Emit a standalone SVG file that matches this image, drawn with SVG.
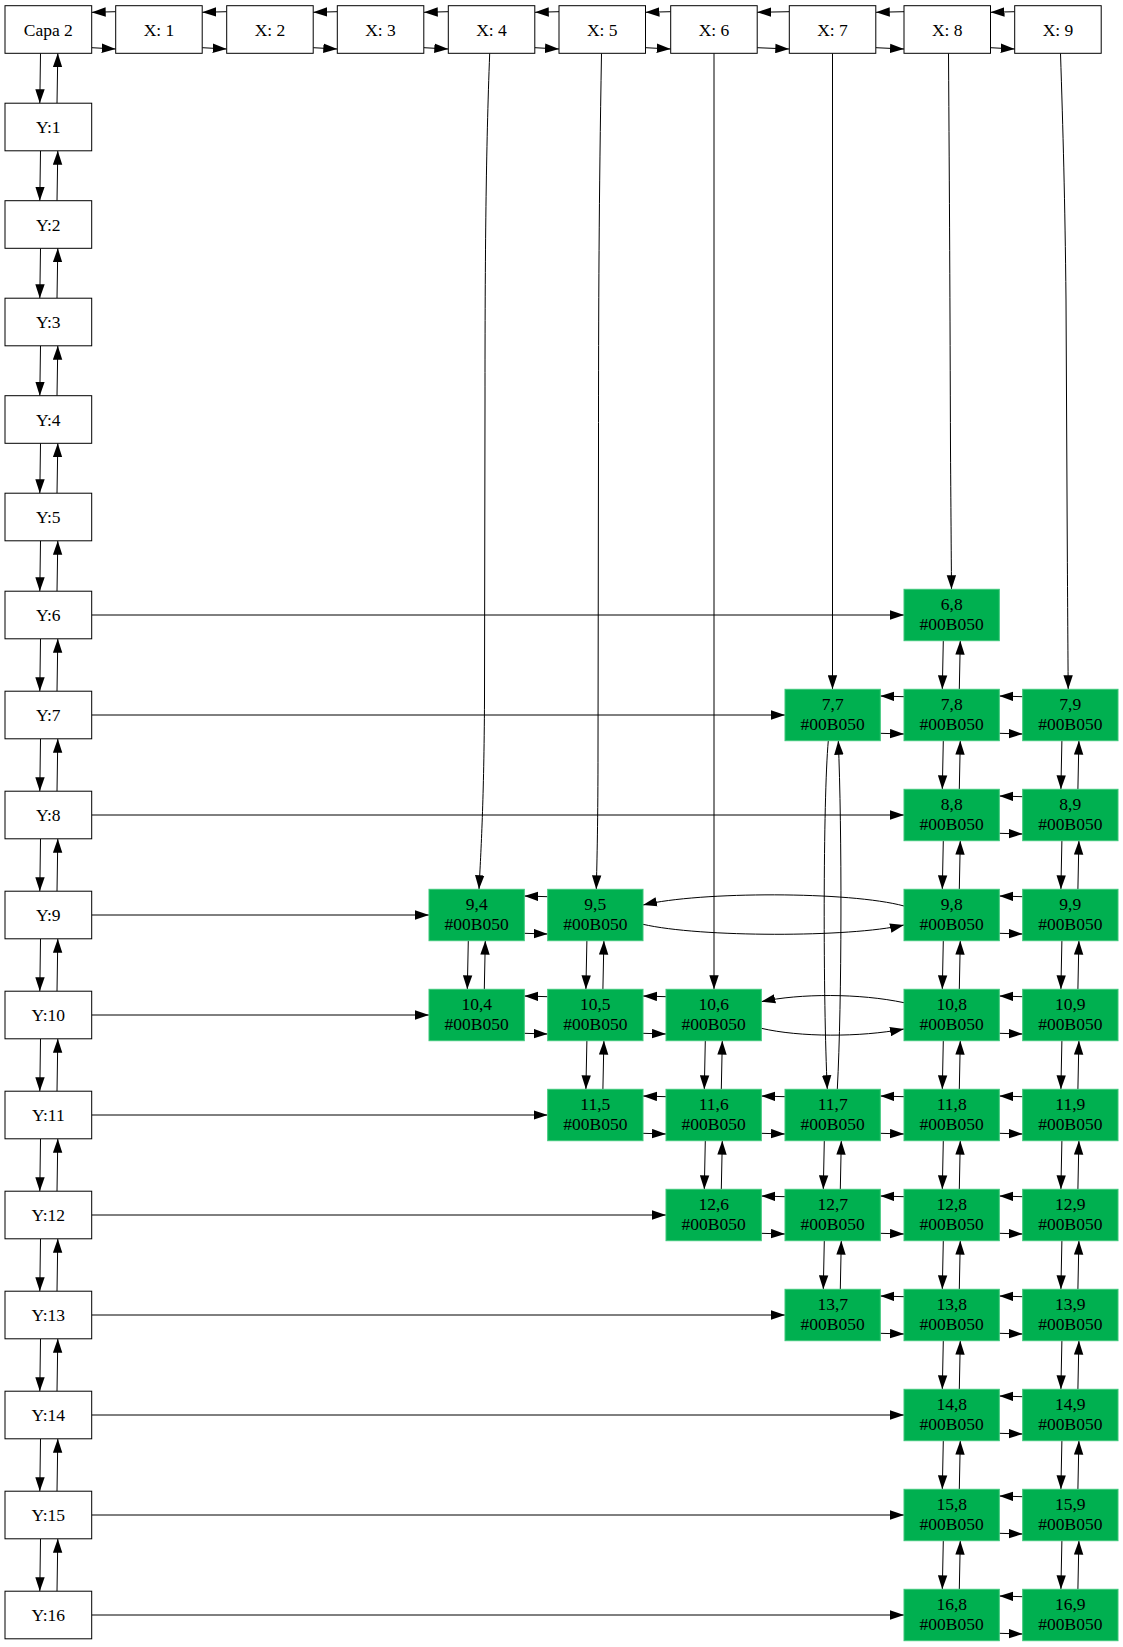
<svg xmlns="http://www.w3.org/2000/svg" width="1123" height="1647" viewBox="0 0 1123 1647">
<style>
.w{fill:#fff;stroke:#000;stroke-width:1}
.g{fill:#00b050;stroke:#3cc77a;stroke-width:1}
.t{font-family:"Liberation Serif","Times New Roman",serif;font-size:17.5px;text-anchor:middle;fill:#000}
.e{fill:none;stroke:#000;stroke-width:1;marker-end:url(#a)}
</style>
<defs><marker id="a" markerUnits="userSpaceOnUse" markerWidth="14" markerHeight="10" refX="14" refY="5" orient="auto"><path d="M0,0.3L14,5L0,9.7z" fill="#000"/></marker></defs>
<rect width="1123" height="1647" fill="#fff"/>
<g id="connectors">
<!-- header row -->
<path class="e" d="M115.7,11.7L91.7,12.3"/><path class="e" d="M91.7,47.7L115.7,49"/>
<path class="e" d="M226.7,11.7L202.2,12.3"/><path class="e" d="M202.2,47.7L226.7,49"/>
<path class="e" d="M337.3,11.7L313.2,12.3"/><path class="e" d="M313.2,47.7L337.3,49"/>
<path class="e" d="M448.3,11.7L423.8,12.3"/><path class="e" d="M423.8,47.7L448.3,49"/>
<path class="e" d="M559,11.7L534.8,12.3"/><path class="e" d="M534.8,47.7L559,49"/>
<path class="e" d="M670.7,11.7L645.5,12.3"/><path class="e" d="M645.5,47.7L670.7,49"/>
<path class="e" d="M789.3,11.7L757.2,12.3"/><path class="e" d="M757.2,47.7L789.3,49"/>
<path class="e" d="M904,11.7L875.8,12.3"/><path class="e" d="M875.8,47.7L904,49"/>
<path class="e" d="M1014.7,11.7L990.5,12.3"/><path class="e" d="M990.5,47.7L1014.7,49"/>
<!-- Y column -->
<path class="e" d="M40.5,53.3L39.8,103.2"/><path class="e" d="M57,103.2L57.8,53.3"/>
<path class="e" d="M40.5,150.8L39.8,200.7"/><path class="e" d="M57,200.7L57.8,150.8"/>
<path class="e" d="M40.5,248.3L39.8,298.2"/><path class="e" d="M57,298.2L57.8,248.3"/>
<path class="e" d="M40.5,345.8L39.8,395.7"/><path class="e" d="M57,395.7L57.8,345.8"/>
<path class="e" d="M40.5,443.3L39.8,493.2"/><path class="e" d="M57,493.2L57.8,443.3"/>
<path class="e" d="M40.5,540.8L39.8,591.2"/><path class="e" d="M57,591.2L57.8,540.8"/>
<path class="e" d="M40.5,638.8L39.8,691.2"/><path class="e" d="M57,691.2L57.8,638.8"/>
<path class="e" d="M40.5,738.8L39.8,791.2"/><path class="e" d="M57,791.2L57.8,738.8"/>
<path class="e" d="M40.5,838.8L39.8,891.2"/><path class="e" d="M57,891.2L57.8,838.8"/>
<path class="e" d="M40.5,938.8L39.8,991.2"/><path class="e" d="M57,991.2L57.8,938.8"/>
<path class="e" d="M40.5,1038.8L39.8,1091.2"/><path class="e" d="M57,1091.2L57.8,1038.8"/>
<path class="e" d="M40.5,1138.8L39.8,1191.2"/><path class="e" d="M57,1191.2L57.8,1138.8"/>
<path class="e" d="M40.5,1238.8L39.8,1291.2"/><path class="e" d="M57,1291.2L57.8,1238.8"/>
<path class="e" d="M40.5,1338.8L39.8,1391.2"/><path class="e" d="M57,1391.2L57.8,1338.8"/>
<path class="e" d="M40.5,1438.8L39.8,1491.2"/><path class="e" d="M57,1491.2L57.8,1438.8"/>
<path class="e" d="M40.5,1538.8L39.8,1591.2"/><path class="e" d="M57,1591.2L57.8,1538.8"/>
<!-- Y rows to first node -->
<path class="e" d="M91.7,615L904,615"/>
<path class="e" d="M91.7,715L785,715"/>
<path class="e" d="M91.7,815L904,815"/>
<path class="e" d="M91.7,915L429,915"/>
<path class="e" d="M91.7,1015L429,1015"/>
<path class="e" d="M91.7,1115L547.7,1115"/>
<path class="e" d="M91.7,1215L666,1215"/>
<path class="e" d="M91.7,1315L785,1315"/>
<path class="e" d="M91.7,1415L904,1415"/>
<path class="e" d="M91.7,1515L904,1515"/>
<path class="e" d="M91.7,1615L904,1615"/>
<!-- X headers to columns -->
<path class="e" d="M489.7,53.3C486,150 485,250 485,400L484.5,700C484,800 481,850 479,889.3"/>
<path class="e" d="M601.5,53.3C599,200 598.5,300 598.5,450L598,750C598,820 597,860 596.3,889.3"/>
<path class="e" d="M714,53.3L714,989.3"/>
<path class="e" d="M832.5,53.3L832.5,689.3"/>
<path class="e" d="M948.5,53.3C949.5,200 950,300 950.5,450C951,520 951.3,560 951.5,589.3"/>
<path class="e" d="M1060.5,53.3C1063,130 1065,200 1066,300L1067.3,550C1067.7,620 1068,660 1068.2,689.3"/>
<!-- green horizontal pairs -->
<path class="e" d="M904,696.7L880.3,696"/><path class="e" d="M880.3,733.3L904,734"/>
<path class="e" d="M1022.7,696.7L999.3,696"/><path class="e" d="M999.3,733.3L1022.7,734"/>
<path class="e" d="M1022.7,796.7L999.3,796"/><path class="e" d="M999.3,833.3L1022.7,834"/>
<path class="e" d="M547.7,896.7L524.3,896"/><path class="e" d="M524.3,933.3L547.7,934"/>
<path class="e" d="M1022.7,896.7L999.3,896"/><path class="e" d="M999.3,933.3L1022.7,934"/>
<path class="e" d="M547.7,996.7L524.3,996"/><path class="e" d="M524.3,1033.3L547.7,1034"/>
<path class="e" d="M666,996.7L643,996"/><path class="e" d="M643,1033.3L666,1034"/>
<path class="e" d="M1022.7,996.7L999.3,996"/><path class="e" d="M999.3,1033.3L1022.7,1034"/>
<path class="e" d="M666,1096.7L643,1096"/><path class="e" d="M643,1133.3L666,1134"/>
<path class="e" d="M785,1096.7L761.3,1096"/><path class="e" d="M761.3,1133.3L785,1134"/>
<path class="e" d="M904,1096.7L880.3,1096"/><path class="e" d="M880.3,1133.3L904,1134"/>
<path class="e" d="M1022.7,1096.7L999.3,1096"/><path class="e" d="M999.3,1133.3L1022.7,1134"/>
<path class="e" d="M785,1196.7L761.3,1196"/><path class="e" d="M761.3,1233.3L785,1234"/>
<path class="e" d="M904,1196.7L880.3,1196"/><path class="e" d="M880.3,1233.3L904,1234"/>
<path class="e" d="M1022.7,1196.7L999.3,1196"/><path class="e" d="M999.3,1233.3L1022.7,1234"/>
<path class="e" d="M904,1296.7L880.3,1296"/><path class="e" d="M880.3,1333.3L904,1334"/>
<path class="e" d="M1022.7,1296.7L999.3,1296"/><path class="e" d="M999.3,1333.3L1022.7,1334"/>
<path class="e" d="M1022.7,1396.7L999.3,1396"/><path class="e" d="M999.3,1433.3L1022.7,1434"/>
<path class="e" d="M1022.7,1496.7L999.3,1496"/><path class="e" d="M999.3,1533.3L1022.7,1534"/>
<path class="e" d="M1022.7,1596.7L999.3,1596"/><path class="e" d="M999.3,1633.3L1022.7,1634"/>
<!-- long curved horizontals -->
<path class="e" d="M904,906C850,891.3 700,891.3 643,905"/>
<path class="e" d="M643,924.3C700,937.5 850,937.5 904,925"/>
<path class="e" d="M904,1002.7C860,993.3 800,993.3 761.3,1001.7"/>
<path class="e" d="M761.3,1028.3C800,1037.3 860,1037.3 904,1029"/>
<!-- long vertical col 7 -->
<path class="e" d="M828.3,740.7C823,800 823,1000 827.3,1089.3"/>
<path class="e" d="M837.3,1089.3C842,1000 842,830 838.3,740.7"/>
<!-- green vertical pairs -->
<path class="e" d="M468.3,940.7L467.3,989.3"/><path class="e" d="M484.3,989.3L485.3,940.7"/>
<path class="e" d="M586.9,940.7L585.9,989.3"/><path class="e" d="M602.9,989.3L603.9,940.7"/>
<path class="e" d="M586.9,1040.7L585.9,1089.3"/><path class="e" d="M602.9,1089.3L603.9,1040.7"/>
<path class="e" d="M705.3,1040.7L704.3,1089.3"/><path class="e" d="M721.3,1089.3L722.3,1040.7"/>
<path class="e" d="M705.3,1140.7L704.3,1189.3"/><path class="e" d="M721.3,1189.3L722.3,1140.7"/>
<path class="e" d="M824.3,1140.7L823.3,1189.3"/><path class="e" d="M840.3,1189.3L841.3,1140.7"/>
<path class="e" d="M824.3,1240.7L823.3,1289.3"/><path class="e" d="M840.3,1289.3L841.3,1240.7"/>
<path class="e" d="M943.3,640.7L942.3,689.3"/><path class="e" d="M959.3,689.3L960.3,640.7"/>
<path class="e" d="M943.3,740.7L942.3,789.3"/><path class="e" d="M959.3,789.3L960.3,740.7"/>
<path class="e" d="M943.3,840.7L942.3,889.3"/><path class="e" d="M959.3,889.3L960.3,840.7"/>
<path class="e" d="M943.3,940.7L942.3,989.3"/><path class="e" d="M959.3,989.3L960.3,940.7"/>
<path class="e" d="M943.3,1040.7L942.3,1089.3"/><path class="e" d="M959.3,1089.3L960.3,1040.7"/>
<path class="e" d="M943.3,1140.7L942.3,1189.3"/><path class="e" d="M959.3,1189.3L960.3,1140.7"/>
<path class="e" d="M943.3,1240.7L942.3,1289.3"/><path class="e" d="M959.3,1289.3L960.3,1240.7"/>
<path class="e" d="M943.3,1340.7L942.3,1389.3"/><path class="e" d="M959.3,1389.3L960.3,1340.7"/>
<path class="e" d="M943.3,1440.7L942.3,1489.3"/><path class="e" d="M959.3,1489.3L960.3,1440.7"/>
<path class="e" d="M943.3,1540.7L942.3,1589.3"/><path class="e" d="M959.3,1589.3L960.3,1540.7"/>
<path class="e" d="M1061.9,740.7L1060.9,789.3"/><path class="e" d="M1077.9,789.3L1078.9,740.7"/>
<path class="e" d="M1061.9,840.7L1060.9,889.3"/><path class="e" d="M1077.9,889.3L1078.9,840.7"/>
<path class="e" d="M1061.9,940.7L1060.9,989.3"/><path class="e" d="M1077.9,989.3L1078.9,940.7"/>
<path class="e" d="M1061.9,1040.7L1060.9,1089.3"/><path class="e" d="M1077.9,1089.3L1078.9,1040.7"/>
<path class="e" d="M1061.9,1140.7L1060.9,1189.3"/><path class="e" d="M1077.9,1189.3L1078.9,1140.7"/>
<path class="e" d="M1061.9,1240.7L1060.9,1289.3"/><path class="e" d="M1077.9,1289.3L1078.9,1240.7"/>
<path class="e" d="M1061.9,1340.7L1060.9,1389.3"/><path class="e" d="M1077.9,1389.3L1078.9,1340.7"/>
<path class="e" d="M1061.9,1440.7L1060.9,1489.3"/><path class="e" d="M1077.9,1489.3L1078.9,1440.7"/>
<path class="e" d="M1061.9,1540.7L1060.9,1589.3"/><path class="e" d="M1077.9,1589.3L1078.9,1540.7"/>
</g>
<!-- header nodes -->
<g id="capa2"><rect class="w" x="5" y="5.7" width="86.7" height="47.6"/><text class="t" x="48.3" y="35.5">Capa 2</text></g>
<g id="x1"><rect class="w" x="115.7" y="5.7" width="86.5" height="47.6"/><text class="t" x="159" y="35.5">X: 1</text></g>
<g id="x2"><rect class="w" x="226.7" y="5.7" width="86.5" height="47.6"/><text class="t" x="270" y="35.5">X: 2</text></g>
<g id="x3"><rect class="w" x="337.3" y="5.7" width="86.5" height="47.6"/><text class="t" x="380.5" y="35.5">X: 3</text></g>
<g id="x4"><rect class="w" x="448.3" y="5.7" width="86.5" height="47.6"/><text class="t" x="491.5" y="35.5">X: 4</text></g>
<g id="x5"><rect class="w" x="559" y="5.7" width="86.5" height="47.6"/><text class="t" x="602.2" y="35.5">X: 5</text></g>
<g id="x6"><rect class="w" x="670.7" y="5.7" width="86.5" height="47.6"/><text class="t" x="714" y="35.5">X: 6</text></g>
<g id="x7"><rect class="w" x="789.3" y="5.7" width="86.5" height="47.6"/><text class="t" x="832.5" y="35.5">X: 7</text></g>
<g id="x8"><rect class="w" x="904" y="5.7" width="86.5" height="47.6"/><text class="t" x="947.2" y="35.5">X: 8</text></g>
<g id="x9"><rect class="w" x="1014.7" y="5.7" width="86.5" height="47.6"/><text class="t" x="1058" y="35.5">X: 9</text></g>
<!-- Y nodes -->
<g id="y1"><rect class="w" x="5" y="103.2" width="86.7" height="47.6"/><text class="t" x="48.3" y="133">Y:1</text></g>
<g id="y2"><rect class="w" x="5" y="200.7" width="86.7" height="47.6"/><text class="t" x="48.3" y="230.5">Y:2</text></g>
<g id="y3"><rect class="w" x="5" y="298.2" width="86.7" height="47.6"/><text class="t" x="48.3" y="328">Y:3</text></g>
<g id="y4"><rect class="w" x="5" y="395.7" width="86.7" height="47.6"/><text class="t" x="48.3" y="425.5">Y:4</text></g>
<g id="y5"><rect class="w" x="5" y="493.2" width="86.7" height="47.6"/><text class="t" x="48.3" y="523">Y:5</text></g>
<g id="y6"><rect class="w" x="5" y="591.2" width="86.7" height="47.6"/><text class="t" x="48.3" y="621">Y:6</text></g>
<g id="y7"><rect class="w" x="5" y="691.2" width="86.7" height="47.6"/><text class="t" x="48.3" y="721">Y:7</text></g>
<g id="y8"><rect class="w" x="5" y="791.2" width="86.7" height="47.6"/><text class="t" x="48.3" y="821">Y:8</text></g>
<g id="y9"><rect class="w" x="5" y="891.2" width="86.7" height="47.6"/><text class="t" x="48.3" y="921">Y:9</text></g>
<g id="y10"><rect class="w" x="5" y="991.2" width="86.7" height="47.6"/><text class="t" x="48.3" y="1021">Y:10</text></g>
<g id="y11"><rect class="w" x="5" y="1091.2" width="86.7" height="47.6"/><text class="t" x="48.3" y="1121">Y:11</text></g>
<g id="y12"><rect class="w" x="5" y="1191.2" width="86.7" height="47.6"/><text class="t" x="48.3" y="1221">Y:12</text></g>
<g id="y13"><rect class="w" x="5" y="1291.2" width="86.7" height="47.6"/><text class="t" x="48.3" y="1321">Y:13</text></g>
<g id="y14"><rect class="w" x="5" y="1391.2" width="86.7" height="47.6"/><text class="t" x="48.3" y="1421">Y:14</text></g>
<g id="y15"><rect class="w" x="5" y="1491.2" width="86.7" height="47.6"/><text class="t" x="48.3" y="1521">Y:15</text></g>
<g id="y16"><rect class="w" x="5" y="1591.2" width="86.7" height="47.6"/><text class="t" x="48.3" y="1621">Y:16</text></g>
<!-- green nodes -->
<g id="n6_8"><rect class="g" x="904" y="589.3" width="95.3" height="51.4"/><text class="t" x="951.7" y="610">6,8</text><text class="t" x="951.7" y="630">#00B050</text></g>
<g id="n7_7"><rect class="g" x="785" y="689.3" width="95.3" height="51.4"/><text class="t" x="832.7" y="710">7,7</text><text class="t" x="832.7" y="730">#00B050</text></g>
<g id="n7_8"><rect class="g" x="904" y="689.3" width="95.3" height="51.4"/><text class="t" x="951.7" y="710">7,8</text><text class="t" x="951.7" y="730">#00B050</text></g>
<g id="n7_9"><rect class="g" x="1022.7" y="689.3" width="95.3" height="51.4"/><text class="t" x="1070.3" y="710">7,9</text><text class="t" x="1070.3" y="730">#00B050</text></g>
<g id="n8_8"><rect class="g" x="904" y="789.3" width="95.3" height="51.4"/><text class="t" x="951.7" y="810">8,8</text><text class="t" x="951.7" y="830">#00B050</text></g>
<g id="n8_9"><rect class="g" x="1022.7" y="789.3" width="95.3" height="51.4"/><text class="t" x="1070.3" y="810">8,9</text><text class="t" x="1070.3" y="830">#00B050</text></g>
<g id="n9_4"><rect class="g" x="429" y="889.3" width="95.3" height="51.4"/><text class="t" x="476.7" y="910">9,4</text><text class="t" x="476.7" y="930">#00B050</text></g>
<g id="n9_5"><rect class="g" x="547.7" y="889.3" width="95.3" height="51.4"/><text class="t" x="595.3" y="910">9,5</text><text class="t" x="595.3" y="930">#00B050</text></g>
<g id="n9_8"><rect class="g" x="904" y="889.3" width="95.3" height="51.4"/><text class="t" x="951.7" y="910">9,8</text><text class="t" x="951.7" y="930">#00B050</text></g>
<g id="n9_9"><rect class="g" x="1022.7" y="889.3" width="95.3" height="51.4"/><text class="t" x="1070.3" y="910">9,9</text><text class="t" x="1070.3" y="930">#00B050</text></g>
<g id="n10_4"><rect class="g" x="429" y="989.3" width="95.3" height="51.4"/><text class="t" x="476.7" y="1010">10,4</text><text class="t" x="476.7" y="1030">#00B050</text></g>
<g id="n10_5"><rect class="g" x="547.7" y="989.3" width="95.3" height="51.4"/><text class="t" x="595.3" y="1010">10,5</text><text class="t" x="595.3" y="1030">#00B050</text></g>
<g id="n10_6"><rect class="g" x="666" y="989.3" width="95.3" height="51.4"/><text class="t" x="713.7" y="1010">10,6</text><text class="t" x="713.7" y="1030">#00B050</text></g>
<g id="n10_8"><rect class="g" x="904" y="989.3" width="95.3" height="51.4"/><text class="t" x="951.7" y="1010">10,8</text><text class="t" x="951.7" y="1030">#00B050</text></g>
<g id="n10_9"><rect class="g" x="1022.7" y="989.3" width="95.3" height="51.4"/><text class="t" x="1070.3" y="1010">10,9</text><text class="t" x="1070.3" y="1030">#00B050</text></g>
<g id="n11_5"><rect class="g" x="547.7" y="1089.3" width="95.3" height="51.4"/><text class="t" x="595.3" y="1110">11,5</text><text class="t" x="595.3" y="1130">#00B050</text></g>
<g id="n11_6"><rect class="g" x="666" y="1089.3" width="95.3" height="51.4"/><text class="t" x="713.7" y="1110">11,6</text><text class="t" x="713.7" y="1130">#00B050</text></g>
<g id="n11_7"><rect class="g" x="785" y="1089.3" width="95.3" height="51.4"/><text class="t" x="832.7" y="1110">11,7</text><text class="t" x="832.7" y="1130">#00B050</text></g>
<g id="n11_8"><rect class="g" x="904" y="1089.3" width="95.3" height="51.4"/><text class="t" x="951.7" y="1110">11,8</text><text class="t" x="951.7" y="1130">#00B050</text></g>
<g id="n11_9"><rect class="g" x="1022.7" y="1089.3" width="95.3" height="51.4"/><text class="t" x="1070.3" y="1110">11,9</text><text class="t" x="1070.3" y="1130">#00B050</text></g>
<g id="n12_6"><rect class="g" x="666" y="1189.3" width="95.3" height="51.4"/><text class="t" x="713.7" y="1210">12,6</text><text class="t" x="713.7" y="1230">#00B050</text></g>
<g id="n12_7"><rect class="g" x="785" y="1189.3" width="95.3" height="51.4"/><text class="t" x="832.7" y="1210">12,7</text><text class="t" x="832.7" y="1230">#00B050</text></g>
<g id="n12_8"><rect class="g" x="904" y="1189.3" width="95.3" height="51.4"/><text class="t" x="951.7" y="1210">12,8</text><text class="t" x="951.7" y="1230">#00B050</text></g>
<g id="n12_9"><rect class="g" x="1022.7" y="1189.3" width="95.3" height="51.4"/><text class="t" x="1070.3" y="1210">12,9</text><text class="t" x="1070.3" y="1230">#00B050</text></g>
<g id="n13_7"><rect class="g" x="785" y="1289.3" width="95.3" height="51.4"/><text class="t" x="832.7" y="1310">13,7</text><text class="t" x="832.7" y="1330">#00B050</text></g>
<g id="n13_8"><rect class="g" x="904" y="1289.3" width="95.3" height="51.4"/><text class="t" x="951.7" y="1310">13,8</text><text class="t" x="951.7" y="1330">#00B050</text></g>
<g id="n13_9"><rect class="g" x="1022.7" y="1289.3" width="95.3" height="51.4"/><text class="t" x="1070.3" y="1310">13,9</text><text class="t" x="1070.3" y="1330">#00B050</text></g>
<g id="n14_8"><rect class="g" x="904" y="1389.3" width="95.3" height="51.4"/><text class="t" x="951.7" y="1410">14,8</text><text class="t" x="951.7" y="1430">#00B050</text></g>
<g id="n14_9"><rect class="g" x="1022.7" y="1389.3" width="95.3" height="51.4"/><text class="t" x="1070.3" y="1410">14,9</text><text class="t" x="1070.3" y="1430">#00B050</text></g>
<g id="n15_8"><rect class="g" x="904" y="1489.3" width="95.3" height="51.4"/><text class="t" x="951.7" y="1510">15,8</text><text class="t" x="951.7" y="1530">#00B050</text></g>
<g id="n15_9"><rect class="g" x="1022.7" y="1489.3" width="95.3" height="51.4"/><text class="t" x="1070.3" y="1510">15,9</text><text class="t" x="1070.3" y="1530">#00B050</text></g>
<g id="n16_8"><rect class="g" x="904" y="1589.3" width="95.3" height="51.4"/><text class="t" x="951.7" y="1610">16,8</text><text class="t" x="951.7" y="1630">#00B050</text></g>
<g id="n16_9"><rect class="g" x="1022.7" y="1589.3" width="95.3" height="51.4"/><text class="t" x="1070.3" y="1610">16,9</text><text class="t" x="1070.3" y="1630">#00B050</text></g>
</svg>
